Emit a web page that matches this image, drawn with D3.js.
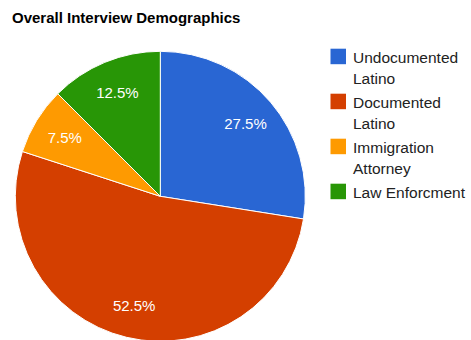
<!DOCTYPE html>
<html>
<head>
<meta charset="utf-8">
<script src="https://cdn.jsdelivr.net/npm/d3@7"></script>
<style>
  html, body { margin: 0; padding: 0; background: #fff; }
  svg { display: block; font-family: "Liberation Sans", Arial, sans-serif; }
</style>
</head>
<body>
<svg id="chart" width="471" height="340"></svg>
<script>
// Interview counts per group (40 interviews in total)
const categories = ["Undocumented Latino", "Documented Latino", "Immigration Attorney", "Law Enforcment"];
const legendLines = [["Undocumented", "Latino"], ["Documented", "Latino"], ["Immigration", "Attorney"], ["Law Enforcment"]];
const interviews = [11, 21, 3, 5];
const colors = ["#2966d3", "#d43f00", "#fe9a01", "#289606"];

const svg = d3.select("#chart");
const W = 471, H = 340;

// Title
svg.append("text")
  .attr("x", 12).attr("y", 23)
  .attr("font-size", 15).attr("font-weight", "bold")
  .attr("fill", "#000")
  .text("Overall Interview Demographics");

// Pie
const cx = 160.3, cy = 196.3, R = 145;
const total = d3.sum(interviews);
const data = categories.map((c, i) => ({ name: c, value: interviews[i], color: colors[i] }));

const pie = d3.pie().value(d => d.value).sort(null);
const arcs = pie(data);
const arc = d3.arc().innerRadius(0).outerRadius(R);
const labelArc = d3.arc().innerRadius(112).outerRadius(112);

const g = svg.append("g").attr("transform", `translate(${cx},${cy})`);
g.selectAll("path.slice")
  .data(arcs)
  .join("path")
  .attr("class", "slice")
  .attr("d", arc)
  .attr("fill", d => d.data.color)
  .attr("stroke", "#fff")
  .attr("stroke-width", 1);

const fmt = d3.format(".1%");
g.selectAll("text.pct")
  .data(arcs)
  .join("text")
  .attr("class", "pct")
  .attr("transform", d => `translate(${labelArc.centroid(d)})`)
  .attr("text-anchor", "middle")
  .attr("dy", "0.36em")
  .attr("font-size", 15)
  .attr("fill", "#fff")
  .text(d => fmt(d.data.value / total));

// Legend
const legend = svg.append("g").attr("transform", "translate(330.5,48.7)");
const item = legend.selectAll("g.item")
  .data(data)
  .join("g")
  .attr("class", "item")
  .attr("transform", (d, i) => `translate(0,${i * 45})`);

item.append("rect")
  .attr("width", 15.5).attr("height", 15.5)
  .attr("fill", d => d.color);

item.append("text")
  .attr("x", 22.5).attr("y", 14.3)
  .attr("font-size", 15.5)
  .attr("fill", "#222")
  .selectAll("tspan")
  .data((d, i) => legendLines[i])
  .join("tspan")
  .attr("x", 22.5)
  .attr("dy", (t, j) => j === 0 ? 0 : 20.7)
  .text(t => t);
</script>
</body>
</html>
